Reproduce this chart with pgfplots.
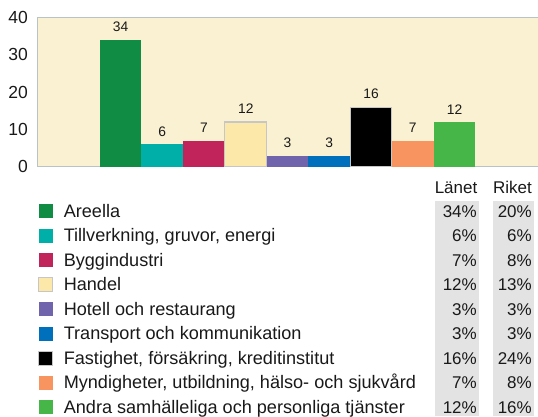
\documentclass[border=0pt]{standalone}
\usepackage{fontspec}
\setmainfont{Liberation Sans}
\usepackage{pgfplots}
\pgfplotsset{compat=1.18}
\definecolor{bgcream}{HTML}{FAF1D2}
\definecolor{axisgray}{HTML}{B8C4C4}
\definecolor{stripgray}{HTML}{E3E3E3}
\definecolor{cA}{HTML}{118C44}
\definecolor{cB}{HTML}{00B0A8}
\definecolor{cC}{HTML}{C0245A}
\definecolor{cD}{HTML}{FCE8A8}
\definecolor{cE}{HTML}{7064AC}
\definecolor{cF}{HTML}{0070BC}
\definecolor{cG}{HTML}{000000}
\definecolor{cH}{HTML}{F79460}
\definecolor{cI}{HTML}{46B649}
\newcommand\lfont{\fontsize{18.1bp}{21bp}\selectfont}
\newcommand\pfont{\fontsize{17bp}{20bp}\selectfont}
\begin{document}
\begin{tikzpicture}[x=1bp,y=1bp]
\path[use as bounding box] (0,0) rectangle (538,416);
\fill[stripgray] (435,0) rectangle (478.5,215);
\fill[stripgray] (493,0) rectangle (533.5,215);
\begin{axis}[
  at={(37bp,249.3bp)}, anchor=south west,
  width=501bp, height=149bp, scale only axis,
  xmin=-2, xmax=10, ymin=0, ymax=40,
  ytick={0,10,20,30,40}, xtick=\empty,
  major tick length=0pt,
  axis line style={draw=axisgray, line width=0.9bp},
  axis background/.style={fill=bgcream},
  ybar, bar width=1, bar shift=0pt,
  /pgf/number format/assume math mode=true,
  yticklabel style={font=\fontsize{17.5bp}{20bp}\selectfont, inner sep=0pt, xshift=-9bp, text=black!90},
  nodes near coords,
  every node near coord/.append style={font=\fontsize{13.8bp}{16bp}\selectfont, text=black!90, anchor=south, inner sep=0pt, yshift=7.8bp},
  legend image code/.code={\path[#1] (0bp,-7bp) rectangle (14bp,7bp);},
  legend cell align=left,
  legend style={at={(0.0026,-0.2151)}, anchor=north west, draw=none, fill=none,
    inner sep=0pt, outer sep=0pt, row sep=0pt, column sep=10.4bp, font=\lfont,
    nodes={inner sep=0pt, text height=18.73bp, text depth=5.77bp, text=black!90}},
]
\addplot[fill=cA, draw=none, bar shift=0pt] coordinates {(0,34)};
\addlegendentry{Areella}
\addplot[fill=cB, draw=none, bar shift=0pt] coordinates {(1,6)};
\addlegendentry{Tillverkning, gruvor, energi}
\addplot[fill=cC, draw=none, bar shift=0pt] coordinates {(2,7)};
\addlegendentry{Byggindustri}
\addplot[fill=cD, draw=gray!45, line width=1.1bp, bar shift=0pt] coordinates {(3,12)};
\addlegendentry{Handel}
\addplot[fill=cE, draw=none, bar shift=0pt] coordinates {(4,3)};
\addlegendentry{Hotell och restaurang}
\addplot[fill=cF, draw=none, bar shift=0pt] coordinates {(5,3)};
\addlegendentry{Transport och kommunikation}
\addplot[fill=cG, draw=gray!45, line width=0.8bp, bar shift=0pt] coordinates {(6,16)};
\addlegendentry{Fastighet, försäkring, kreditinstitut}
\addplot[fill=cH, draw=none, bar shift=0pt] coordinates {(7,7)};
\addlegendentry{Myndigheter, utbildning, hälso- och sjukvård}
\addplot[fill=cI, draw=none, bar shift=0pt] coordinates {(8,12)};
\addlegendentry{Andra samhälleliga och personliga tjänster}
\end{axis}
\node[anchor=base east, inner sep=0pt, font=\pfont, text=black!90] at (477.5,222.9) {Länet};
\node[anchor=base east, inner sep=0pt, font=\pfont, text=black!90] at (532,222.9) {Riket};
\foreach \l/\r [count=\i from 0] in {34/20,6/6,7/8,12/13,3/3,3/3,16/24,7/8,12/16} {
  \node[anchor=base east, inner sep=0pt, font=\pfont, text=black!90] at (477,{198.9-24.5*\i}) {\l\%};
  \node[anchor=base east, inner sep=0pt, font=\pfont, text=black!90] at (532,{198.9-24.5*\i}) {\r\%};
}
\end{tikzpicture}
\end{document}
